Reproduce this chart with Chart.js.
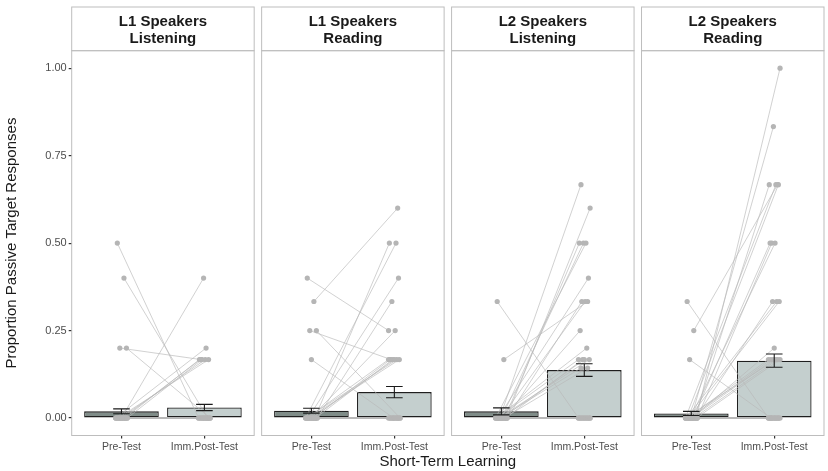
<!DOCTYPE html>
<html>
<head>
<meta charset="utf-8">
<script src="https://cdn.jsdelivr.net/npm/chart.js@4.4.1/dist/chart.umd.min.js"></script>
<style>
    html, body { margin: 0; padding: 0; background: #fff; }
    #wrap { position: relative; width: 828px; height: 471px; }
</style>
</head>
<body>
<div id="wrap"><canvas id="grafica" width="828" height="471"></canvas></div>
<script>
// ==========================================
// DATOS
// ==========================================
const panelNames = [['L1 Speakers', 'Listening'], ['L1 Speakers', 'Reading'], ['L2 Speakers', 'Listening'], ['L2 Speakers', 'Reading']];
const testNames = ['Pre-Test', 'Imm.Post-Test'];
const yTicks = [0, 0.25, 0.5, 0.75, 1];

// medias y errores estándar (barras)
const preMean = [0.019, 0.021, 0.019, 0.013];
const postMean = [0.030, 0.074, 0.137, 0.164];
const preSE = [0.007, 0.007, 0.010, 0.006];
const postSE = [0.009, 0.016, 0.018, 0.019];

// participantes (pre -> post)
const l1ListeningPre  = [0.5, 0.4, 0.2, 0.2, 0, 0, 0, 0, 0, 0, 0, 0, 0, 0, 0, 0, 0, 0, 0, 0, 0, 0, 0, 0, 0, 0, 0, 0, 0, 0];
const l1ListeningPost = [0, 0, 0.167, 0, 0.4, 0.2, 0.167, 0.167, 0.167, 0.167, 0.167, 0, 0, 0, 0, 0, 0, 0, 0, 0, 0, 0, 0, 0, 0, 0, 0, 0, 0, 0];

const l1ReadingPre  = [0.4, 0.333, 0.25, 0.25, 0.167, 0, 0, 0, 0, 0, 0, 0, 0, 0, 0, 0, 0, 0, 0, 0, 0, 0, 0, 0, 0, 0, 0, 0, 0, 0, 0, 0];
const l1ReadingPost = [0.25, 0.6, 0.167, 0, 0, 0.5, 0.5, 0.4, 0.333, 0.25, 0.167, 0.167, 0.167, 0.167, 0.167, 0.167, 0, 0, 0, 0, 0, 0, 0, 0, 0, 0, 0, 0, 0, 0, 0, 0];

const l2ListeningPre  = [0.333, 0.167, 0, 0, 0, 0, 0, 0, 0, 0, 0, 0, 0, 0, 0, 0, 0, 0, 0, 0, 0, 0, 0, 0, 0, 0, 0, 0, 0, 0, 0, 0, 0, 0];
const l2ListeningPost = [0, 0.333, 0.667, 0.6, 0.5, 0.5, 0.5, 0.4, 0.333, 0.333, 0.25, 0.2, 0.167, 0.167, 0.167, 0.167, 0.143, 0.143, 0, 0, 0, 0, 0, 0, 0, 0, 0, 0, 0, 0, 0, 0, 0, 0];

const l2ReadingPre  = [0.333, 0.25, 0.167, 0, 0, 0, 0, 0, 0, 0, 0, 0, 0, 0, 0, 0, 0, 0, 0, 0, 0, 0, 0, 0, 0, 0, 0, 0, 0, 0, 0, 0, 0, 0, 0, 0, 0, 0, 0, 0];
const l2ReadingPost = [0, 0.667, 0, 1.0, 0.833, 0.667, 0.667, 0.667, 0.5, 0.5, 0.5, 0.333, 0.333, 0.333, 0.2, 0.167, 0.167, 0.167, 0.167, 0.167, 0.167, 0, 0, 0, 0, 0, 0, 0, 0, 0, 0, 0, 0, 0, 0, 0, 0, 0, 0, 0];

const participantPre = [l1ListeningPre, l1ReadingPre, l2ListeningPre, l2ReadingPre];
const participantPost = [l1ListeningPost, l1ReadingPost, l2ListeningPost, l2ReadingPost];

// ==========================================
// GEOMETRÍA DE FACETAS (unidades del eje x)
// ==========================================
const PANEL_W = 2.2;   // 2 categorías + expansión 0.6 a cada lado
const GAP = 0.09;
const xMax = 4 * PANEL_W + 3 * GAP;
const panelStart = (k) => k * (PANEL_W + GAP);
const catX = (k, c) => panelStart(k) + 0.6 + c;
// pequeño desplazamiento horizontal de los puntos (jitter)
const JIT = [-0.05, 0.03, -0.02, 0.06, 0.0, -0.07, 0.04, -0.04, 0.07, -0.01, 0.02, -0.06, 0.05, -0.03, 0.01];

// ==========================================
// DATASETS
// ==========================================
const barData = [];
const barColors = [];
for (let k = 0; k < 4; k++) {
    barData.push({ x: catX(k, 0), y: preMean[k] });
    barColors.push('#7f8c88');
    barData.push({ x: catX(k, 1), y: postMean[k] });
    barColors.push('#c4cfce');
}

const lineData = [];
const pointData = [];
for (let k = 0; k < 4; k++) {
    const pre = participantPre[k];
    const post = participantPost[k];
    for (let i = 0; i < pre.length; i++) {
        const jx0 = JIT[i % JIT.length];
        const jx1 = JIT[(i + 5) % JIT.length];
        const p0 = { x: catX(k, 0) + jx0, y: pre[i] };
        const p1 = { x: catX(k, 1) + jx1, y: post[i] };
        lineData.push(p0, p1, { x: p1.x, y: null });
        pointData.push(p0, p1);
    }
}

const tickPositions = [];
for (let k = 0; k < 4; k++) tickPositions.push(catX(k, 0), catX(k, 1));

// ==========================================
// PLUGIN: franjas, bordes y barras de error
// ==========================================
const facetPlugin = {
    id: 'facetas',
    beforeDatasetsDraw(chart) {
        const { ctx, chartArea, scales } = chart;
        ctx.save();
        ctx.strokeStyle = '#bdbdbd';
        ctx.lineWidth = 1;
        for (let k = 0; k < 4; k++) {
            const x0 = scales.x.getPixelForValue(panelStart(k));
            const x1 = scales.x.getPixelForValue(panelStart(k) + PANEL_W);
            // franja superior
            ctx.strokeRect(x0, 7, x1 - x0, chartArea.top - 7);
            ctx.fillStyle = '#1a1a1a';
            ctx.font = 'bold 15px "Liberation Sans", Arial, sans-serif';
            ctx.textAlign = 'center';
            ctx.textBaseline = 'middle';
            ctx.fillText(panelNames[k][0], (x0 + x1) / 2, 21.5);
            ctx.fillText(panelNames[k][1], (x0 + x1) / 2, 38.5);
        }
        ctx.restore();
    },
    afterDatasetsDraw(chart) {
        const { ctx, chartArea, scales } = chart;
        const xs = scales.x, ys = scales.y;
        ctx.save();
        // barras de error
        ctx.strokeStyle = '#1a1a1a';
        ctx.lineWidth = 1.1;
        for (let k = 0; k < 4; k++) {
            [[preMean[k], preSE[k], 0], [postMean[k], postSE[k], 1]].forEach(([m, se, c]) => {
                const xc = xs.getPixelForValue(catX(k, c));
                const half = xs.getPixelForValue(catX(k, c) + 0.1) - xc;
                const yt = ys.getPixelForValue(m + se);
                const yb = ys.getPixelForValue(m - se);
                ctx.beginPath();
                ctx.moveTo(xc - half, yt); ctx.lineTo(xc + half, yt);
                ctx.moveTo(xc, yt); ctx.lineTo(xc, yb);
                ctx.moveTo(xc - half, yb); ctx.lineTo(xc + half, yb);
                ctx.stroke();
            });
        }
        // bordes de panel
        ctx.strokeStyle = '#bdbdbd';
        ctx.lineWidth = 1;
        for (let k = 0; k < 4; k++) {
            const x0 = xs.getPixelForValue(panelStart(k));
            const x1 = xs.getPixelForValue(panelStart(k) + PANEL_W);
            ctx.strokeRect(x0, chartArea.top, x1 - x0, chartArea.bottom - chartArea.top);
        }
        ctx.restore();
    }
};

// ==========================================
// GRÁFICA
// ==========================================
const ctx = document.getElementById('grafica').getContext('2d');
const chartInstance = new Chart(ctx, {
    data: {
        datasets: [
            {
                type: 'bar',
                data: barData,
                backgroundColor: barColors,
                borderColor: '#1f1f1f',
                borderWidth: 1.3,
                borderSkipped: false,
                barPercentage: 0.9,
                categoryPercentage: 1.0,
                order: 3
            },
            {
                type: 'line',
                data: lineData,
                borderColor: 'rgba(185,185,185,0.65)',
                borderWidth: 1,
                pointRadius: 0,
                spanGaps: false,
                tension: 0,
                order: 2
            },
            {
                type: 'scatter',
                data: pointData,
                backgroundColor: '#b5b5b5',
                borderWidth: 0,
                pointRadius: 2.6,
                order: 1
            }
        ]
    },
    options: {
        responsive: false,
        animation: false,
        devicePixelRatio: 1,
        layout: { padding: { top: 50.7, right: 2, left: 0, bottom: 0 } },
        plugins: { legend: { display: false }, tooltip: { enabled: false } },
        scales: {
            x: {
                type: 'linear',
                offset: false,
                min: 0,
                max: xMax,
                afterBuildTicks: (scale) => { scale.ticks = tickPositions.map(v => ({ value: v })); },
                afterFit: (scale) => { scale.height = 35.5; },
                ticks: {
                    autoSkip: false,
                    maxRotation: 0,
                    padding: 2,
                    color: '#4d4d4d',
                    font: { family: '"Liberation Sans", Arial, sans-serif', size: 10.5 },
                    callback: (v, i) => testNames[i % 2]
                },
                grid: { offset: false, drawOnChartArea: false, drawTicks: true, tickLength: 3, lineWidth: 1.2, color: '#333' },
                border: { display: false },
                title: {
                    display: true,
                    text: 'Short-Term Learning',
                    color: '#1a1a1a',
                    font: { family: '"Liberation Sans", Arial, sans-serif', size: 15 },
                    padding: { top: 0, bottom: 0 }
                }
            },
            y: {
                type: 'linear',
                min: -0.05,
                max: 1.05,
                afterBuildTicks: (scale) => { scale.ticks = yTicks.map(v => ({ value: v })); },
                afterFit: (scale) => { scale.width = 71.7; },
                ticks: {
                    padding: 2,
                    color: '#4d4d4d',
                    font: { family: '"Liberation Sans", Arial, sans-serif', size: 11 },
                    callback: (v) => Number(v).toFixed(2)
                },
                grid: { drawOnChartArea: false, drawTicks: true, tickLength: 3, lineWidth: 1.2, color: '#333' },
                border: { display: false },
                title: {
                    display: true,
                    text: 'Proportion Passive Target Responses',
                    color: '#1a1a1a',
                    font: { family: '"Liberation Sans", Arial, sans-serif', size: 15 },
                    padding: { top: 3, bottom: 0 }
                }
            }
        }
    },
    plugins: [facetPlugin]
});
</script>
</body>
</html>
